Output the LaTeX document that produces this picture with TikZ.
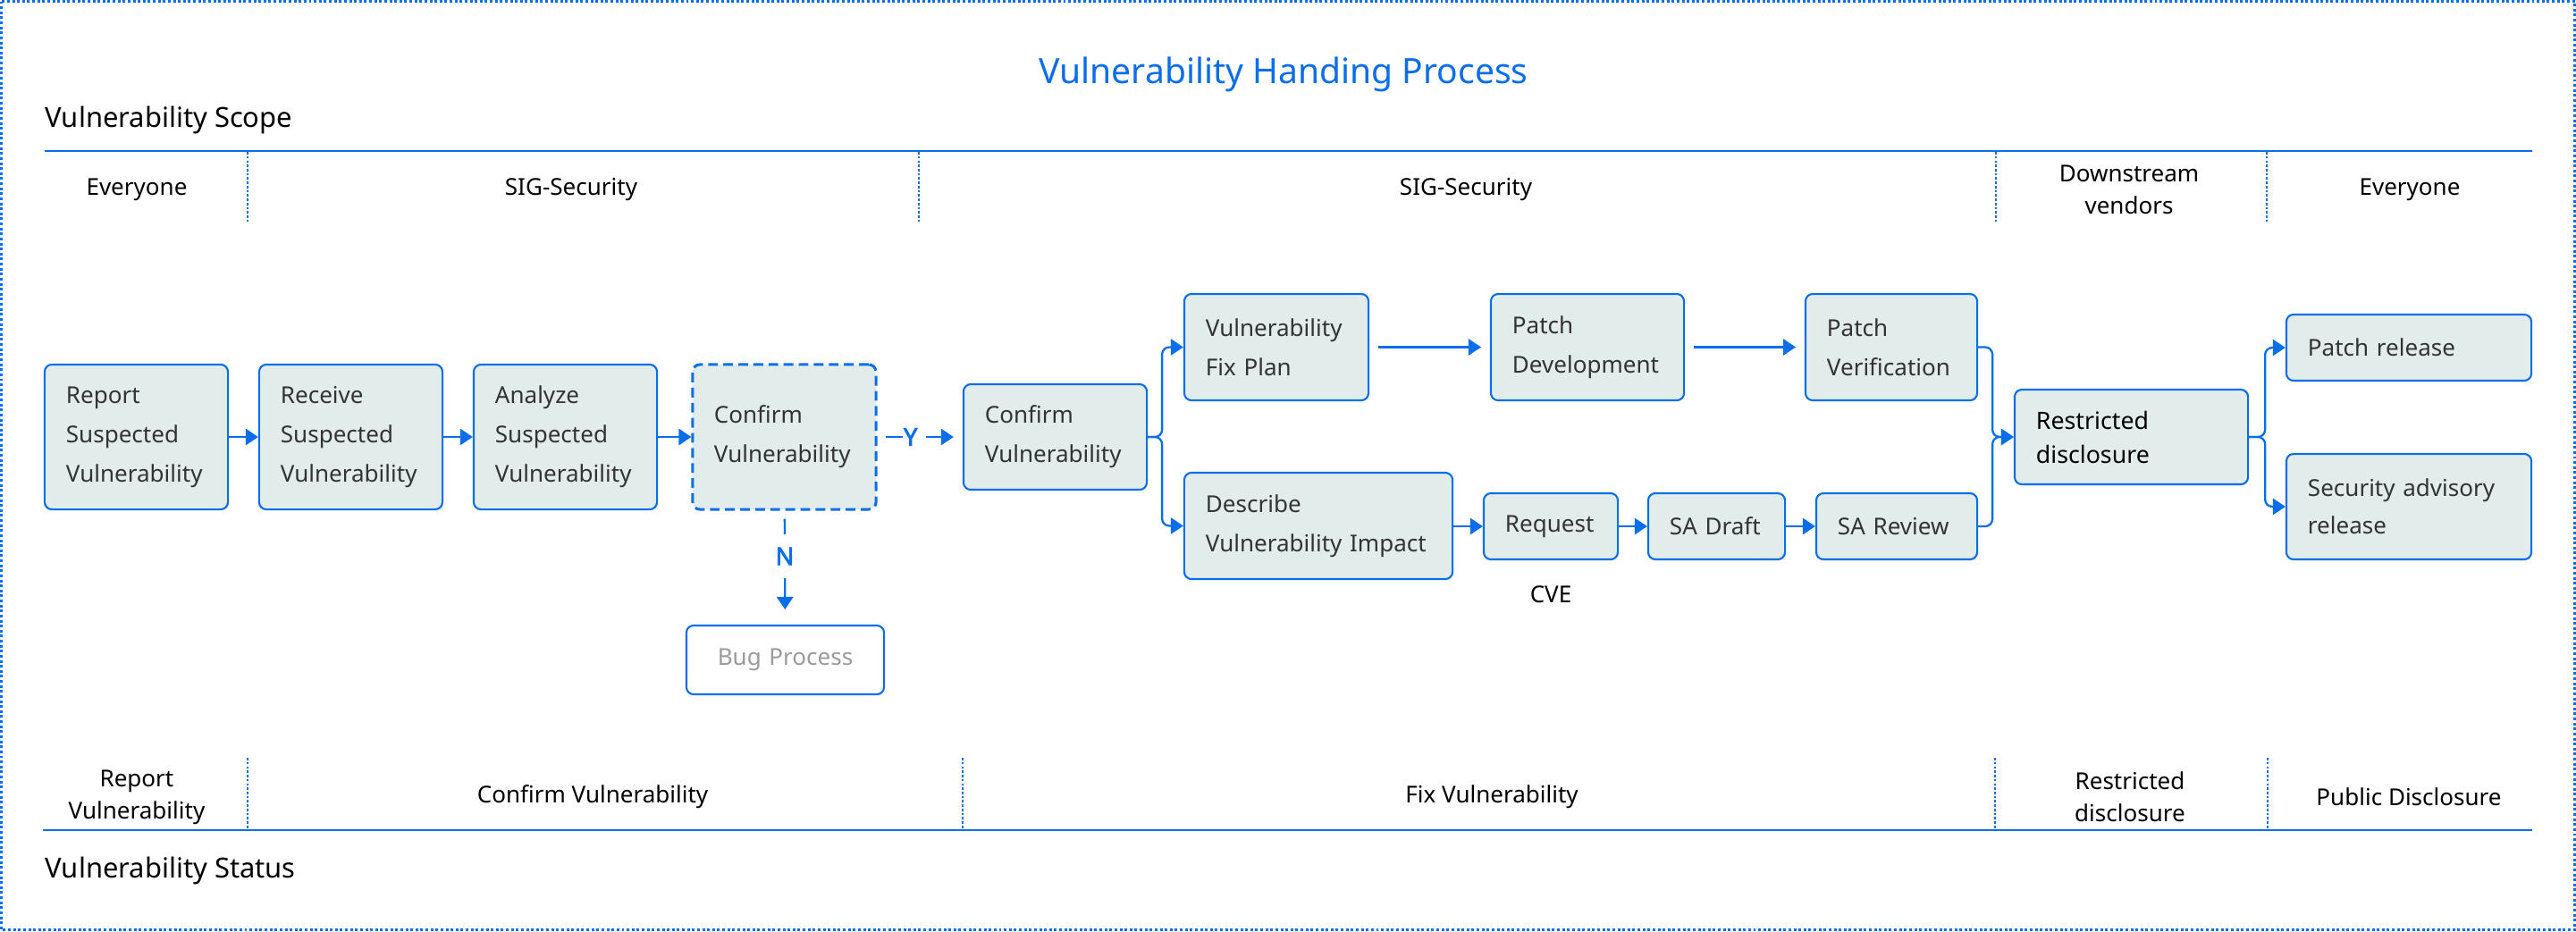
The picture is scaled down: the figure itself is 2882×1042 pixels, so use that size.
\documentclass[tikz,border=0pt]{standalone}
\usepackage{fontspec}
\setmainfont{Noto Sans}
\newfontfamily\ynfont{Noto Sans}[FakeBold=2.5]
\usetikzlibrary{positioning,arrows.meta,calc}
\definecolor{hblue}{HTML}{0A6EEA}
\definecolor{hfill}{HTML}{E2EDEB}
\definecolor{htext}{HTML}{333333}
\definecolor{hgray}{HTML}{9A9A9A}
\hyphenpenalty=10000

\begin{document}
\begin{tikzpicture}[x=0.01cm, y=-0.01cm,
    box/.style={rectangle, draw=hblue, line width=0.6pt, fill=hfill, rounded corners=2.3pt,
                inner xsep=0.24cm, inner ysep=0pt, align=left, text=htext,
                font=\fontsize{7.4pt}{12.5pt}\selectfont},
    link/.style={draw=hblue, line width=0.65pt, -{Triangle[length=4pt, width=5.2pt]}},
    lane/.style={align=center, text=black, font=\fontsize{7.4pt}{10.2pt}\selectfont},
    sep/.style={draw=hblue, line width=0.4pt, dash pattern=on 0.75pt off 0.6pt},
    yn/.style={fill=white, text=hblue, inner xsep=0.3pt, inner ysep=4.3pt, font=\fontsize{7.8pt}{9pt}\ynfont}]
    \useasboundingbox (0,0) rectangle (2882,1042);
    \draw[hblue, line width=0.6pt, dash pattern=on 0.85pt off 0.75pt] (1.5,1.5) rectangle (2880.5,1040.5);

    % titles
    \node[text=hblue, anchor=base, font=\fontsize{11.1pt}{13pt}\selectfont] (title) at (1436,93) {Vulnerability Handing Process};
    \node[anchor=base west, inner sep=0pt, font=\fontsize{8.8pt}{10pt}\selectfont] (scope) at (50,142) {Vulnerability Scope};
    \node[anchor=base west, inner sep=0pt, font=\fontsize{8.8pt}{10pt}\selectfont] (status) at (50,982) {Vulnerability Status};

    % scope lane
    \draw[hblue, line width=0.7pt] (50,169) -- (2833,169);
    \foreach \x in {277,1028,2233,2536} \draw[sep] (\x,170) -- (\x,248);
    \node[lane] (who1) at (153,212) {Everyone};
    \node[lane] (who2) at (639,212) {SIG-Security};
    \node[lane] (who3) at (1640,212) {SIG-Security};
    \node[lane] (who4) at (2382,212) {Downstream\\vendors};
    \node[lane] (who5) at (2696,212) {Everyone};

    % status lane
    \draw[hblue, line width=0.7pt] (48,929) -- (2833,929);
    \foreach \x in {277,1077,2232,2537} \draw[sep] (\x,848) -- (\x,928);
    \node[lane] (st1) at (153,892) {Report\\Vulnerability};
    \node[lane] (st2) at (663,892) {Confirm Vulnerability};
    \node[lane] (st3) at (1669,892) {Fix Vulnerability};
    \node[lane] (st4) at (2383,892) {Restricted\\disclosure};
    \node[lane] (st5) at (2695,892) {Public Disclosure};

    % confirm phase
    \node[box, minimum width=2.05cm, text width=1.57cm, minimum height=1.62cm] (report) at (152.5,489) {Report\\Suspected\\Vulnerability};
    \node[box, minimum width=2.05cm, text width=1.57cm, minimum height=1.62cm] (receive) at (392.5,489) {Receive\\Suspected\\Vulnerability};
    \node[box, minimum width=2.05cm, text width=1.57cm, minimum height=1.62cm] (analyze) at (632.5,489) {Analyze\\Suspected\\Vulnerability};
    \node[box, line width=0.85pt, dash pattern=on 3.1pt off 1.7pt, minimum width=2.05cm, text width=1.57cm, minimum height=1.62cm] (confirm) at (877.5,489) {Confirm\\Vulnerability};
    \node[box, fill=white, text=hgray, align=center, minimum width=2.21cm, text width=1.73cm, minimum height=0.77cm] (bug) at (878.5,738.5) {Bug Process};

    \draw[link] (report) -- (receive);
    \draw[link] (receive) -- (analyze);
    \draw[link] (analyze) -- (confirm);
    \draw[link, shorten <=2.6pt, shorten >=4.8pt] (confirm) -- node[yn, pos=0.4] {N} (bug);

    % fix phase
    \node[box, minimum width=2.05cm, text width=1.57cm, minimum height=1.18cm] (confirmb) at (1180.5,489) {Confirm\\Vulnerability};
    \draw[link, shorten <=2.6pt, shorten >=2.85pt] (confirm) -- node[yn, pos=0.434] {Y\kern2.4pt} (confirmb);

    \node[box, minimum width=2.06cm, text width=1.58cm, minimum height=1.19cm] (fixplan) at (1428,388.5) {Vulnerability\\Fix Plan};
    \node[box, minimum width=2.16cm, text width=1.68cm, minimum height=1.19cm] (patchdev) at (1776,388.5) {Patch\\Development};
    \node[box, minimum width=1.92cm, text width=1.44cm, minimum height=1.19cm] (patchver) at (2116,388.5) {Patch\\Verification};
    \node[box, minimum width=3.00cm, text width=2.52cm, minimum height=1.19cm] (impact) at (1475,588.5) {Describe\\Vulnerability~Impact};
    \node[box, minimum width=1.50cm, text width=1.02cm, minimum height=0.74cm] (request) at (1735,589) {Request};
    \node[lane] (cve) at (1735,665) {CVE};
    \node[box, minimum width=1.53cm, text width=1.05cm, minimum height=0.74cm] (sadraft) at (1920.5,589) {SA Draft};
    \node[box, minimum width=1.80cm, text width=1.32cm, minimum height=0.74cm] (sareview) at (2122,589) {SA Review};

    \draw[link, rounded corners=2.3pt] (confirmb.east) -- ++(16,0) |- (fixplan.west);
    \draw[link, rounded corners=2.3pt] (confirmb.east) -- ++(16,0) |- (impact.west);
    \draw[link, shorten <=2.8pt, shorten >=2.8pt] (fixplan) -- (patchdev);
    \draw[link, shorten <=2.8pt, shorten >=2.8pt] (patchdev) -- (patchver);
    \draw[link] (impact.east |- request) -- (request);
    \draw[link] (request) -- (sadraft);
    \draw[link] (sadraft) -- (sareview);

    % disclosure
    \node[box, text=black, font=\fontsize{7.6pt}{10.8pt}\selectfont, minimum width=2.61cm, text width=2.13cm, minimum height=1.06cm] (restricted) at (2384.5,489) {Restricted\\disclosure};
    \node[box, minimum width=2.74cm, text width=2.26cm, minimum height=0.74cm] (patchrel) at (2695,389) {Patch release};
    \node[box, font=\fontsize{7.4pt}{12pt}\selectfont, minimum width=2.74cm, text width=2.26cm, minimum height=1.18cm] (advisory) at (2695,567) {Security advisory\\release};

    \draw[link, rounded corners=2.3pt] (patchver.east) -- ++(16,0) |- (restricted.west);
    \draw[link, rounded corners=2.3pt] (sareview.east) -- ++(16,0) |- (restricted.west);
    \draw[link, rounded corners=2.3pt] (restricted.east) -- ++(18,0) |- (patchrel.west);
    \draw[link, rounded corners=2.3pt] (restricted.east) -- ++(18,0) |- (advisory.west);
\end{tikzpicture}
\end{document}
